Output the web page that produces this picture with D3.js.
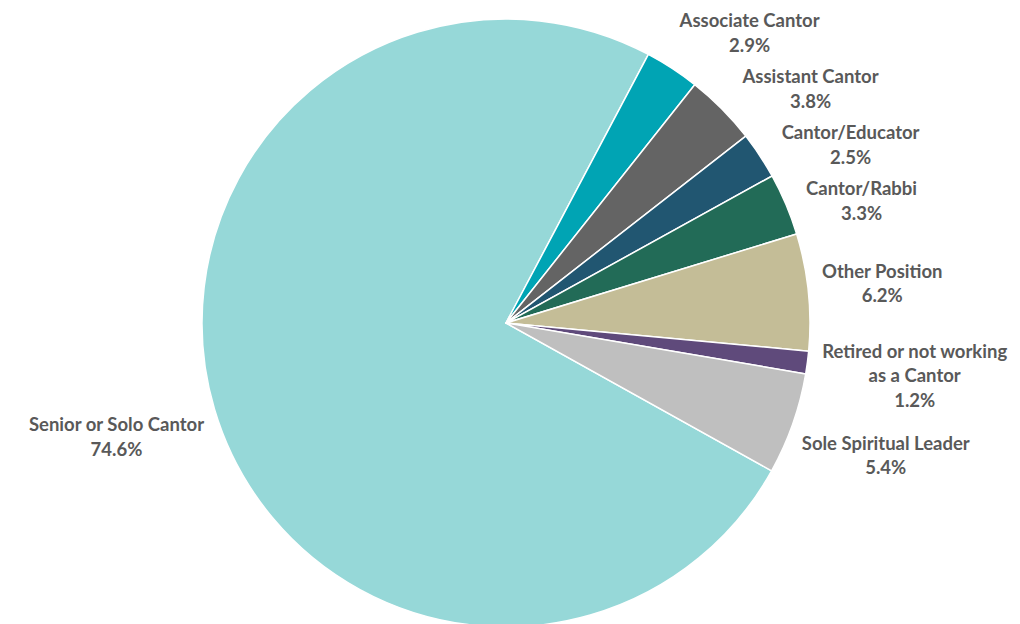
<!DOCTYPE html>
<html>
<head>
<meta charset="utf-8">
<script src="https://cdn.jsdelivr.net/npm/d3@7"></script>
<style>
  html, body { margin: 0; padding: 0; background: #fff; }
  svg { display: block; }
</style>
</head>
<body>
<svg id="chart" width="1020" height="624"></svg>
<script>
const categories = [
  "Senior or Solo Cantor", "Associate Cantor", "Assistant Cantor", "Cantor/Educator",
  "Cantor/Rabbi", "Other Position", "Retired or not working as a Cantor", "Sole Spiritual Leader"
];
const labelLines = [
  ["Senior or Solo Cantor"], ["Associate Cantor"], ["Assistant Cantor"], ["Cantor/Educator"],
  ["Cantor/Rabbi"], ["Other Position"], ["Retired or not working", "as a Cantor"], ["Sole Spiritual Leader"]
];
const values = [74.6, 2.9, 3.8, 2.5, 3.3, 6.2, 1.2, 5.4];
const percentLabels = ["74.6%", "2.9%", "3.8%", "2.5%", "3.3%", "6.2%", "1.2%", "5.4%"];
const colors = ["#96d8d8", "#00a4b4", "#646464", "#215671", "#226b57", "#c4bd97", "#5f4a7b", "#bfbfbf"];

const W = 1020, H = 624;
const cx = 506, cy = 323, R = 304;
const startDeg = 119.1;
const a0 = startDeg * Math.PI / 180;
const TAU = 2 * Math.PI;

const svg = d3.select("#chart");
const g = svg.append("g").attr("transform", `translate(${cx},${cy})`);

const pie = d3.pie().sort(null).value(d => d).startAngle(a0).endAngle(a0 + TAU);
const arcs = pie(values);
const arc = d3.arc().innerRadius(0).outerRadius(R);

g.selectAll("path.slice").data(arcs).join("path")
  .attr("class", "slice")
  .attr("d", arc)
  .attr("fill", (d, i) => colors[i])
  .attr("stroke", "#fff")
  .attr("stroke-width", 1.5)
  .attr("stroke-linejoin", "round");

// Labels
const fontSize = 18.5, lh = 24.5, gap = 12;
const labels = arcs.map((d, i) => {
  const lines = labelLines[i].concat([percentLabels[i]]);
  const t = g.append("text")
    .attr("text-anchor", "middle")
    .attr("font-family", "Lato, 'Open Sans', sans-serif")
    .attr("font-weight", "bold")
    .attr("font-size", fontSize)
    .attr("fill", "#595959");
  lines.forEach((ln, k) => t.append("tspan").attr("x", 0).attr("dy", k === 0 ? 0 : lh).text(ln));
  let w = 0;
  t.selectAll("tspan").each(function () { w = Math.max(w, this.getComputedTextLength()); });
  const h = lines.length * lh - 5;
  const mid = (((d.startAngle + d.endAngle) / 2) % TAU + TAU) % TAU;
  return { t, lines, w, h, mid };
});

function rfun(a, w, h) {
  return R + 12 + Math.abs(Math.sin(a)) * w / 2 + Math.abs(Math.cos(a)) * h / 2;
}
labels.forEach(L => {
  const r = rfun(L.mid, L.w, L.h);
  L.x = r * Math.sin(L.mid);
  L.y = -r * Math.cos(L.mid);
  L.right = Math.sin(L.mid) > 0;
});

// resolve overlaps on right side by pushing down along the label ring
const rightL = labels.filter(L => L.right).sort((a, b) => a.y - b.y);
let prevBottom = -cy + 12 - gap;
rightL.forEach(L => {
  const top = L.y - L.h / 2;
  const minTop = prevBottom + gap;
  if (top < minTop) {
    const targetY = minTop + L.h / 2;
    let lo = L.mid, hi = Math.PI;
    for (let k = 0; k < 60; k++) {
      const m = (lo + hi) / 2;
      const yy = -rfun(m, L.w, L.h) * Math.cos(m);
      if (yy < targetY) lo = m; else hi = m;
    }
    const a = (lo + hi) / 2;
    const r = rfun(a, L.w, L.h);
    L.x = r * Math.sin(a);
    L.y = targetY;
  }
  prevBottom = L.y + L.h / 2;
});

labels.forEach(L => {
  const n = L.lines.length;
  const firstBaseline = L.y - (n * lh) / 2 + lh * 0.72;
  L.t.attr("transform", `translate(${L.x},${firstBaseline})`);
});
</script>
</body>
</html>
